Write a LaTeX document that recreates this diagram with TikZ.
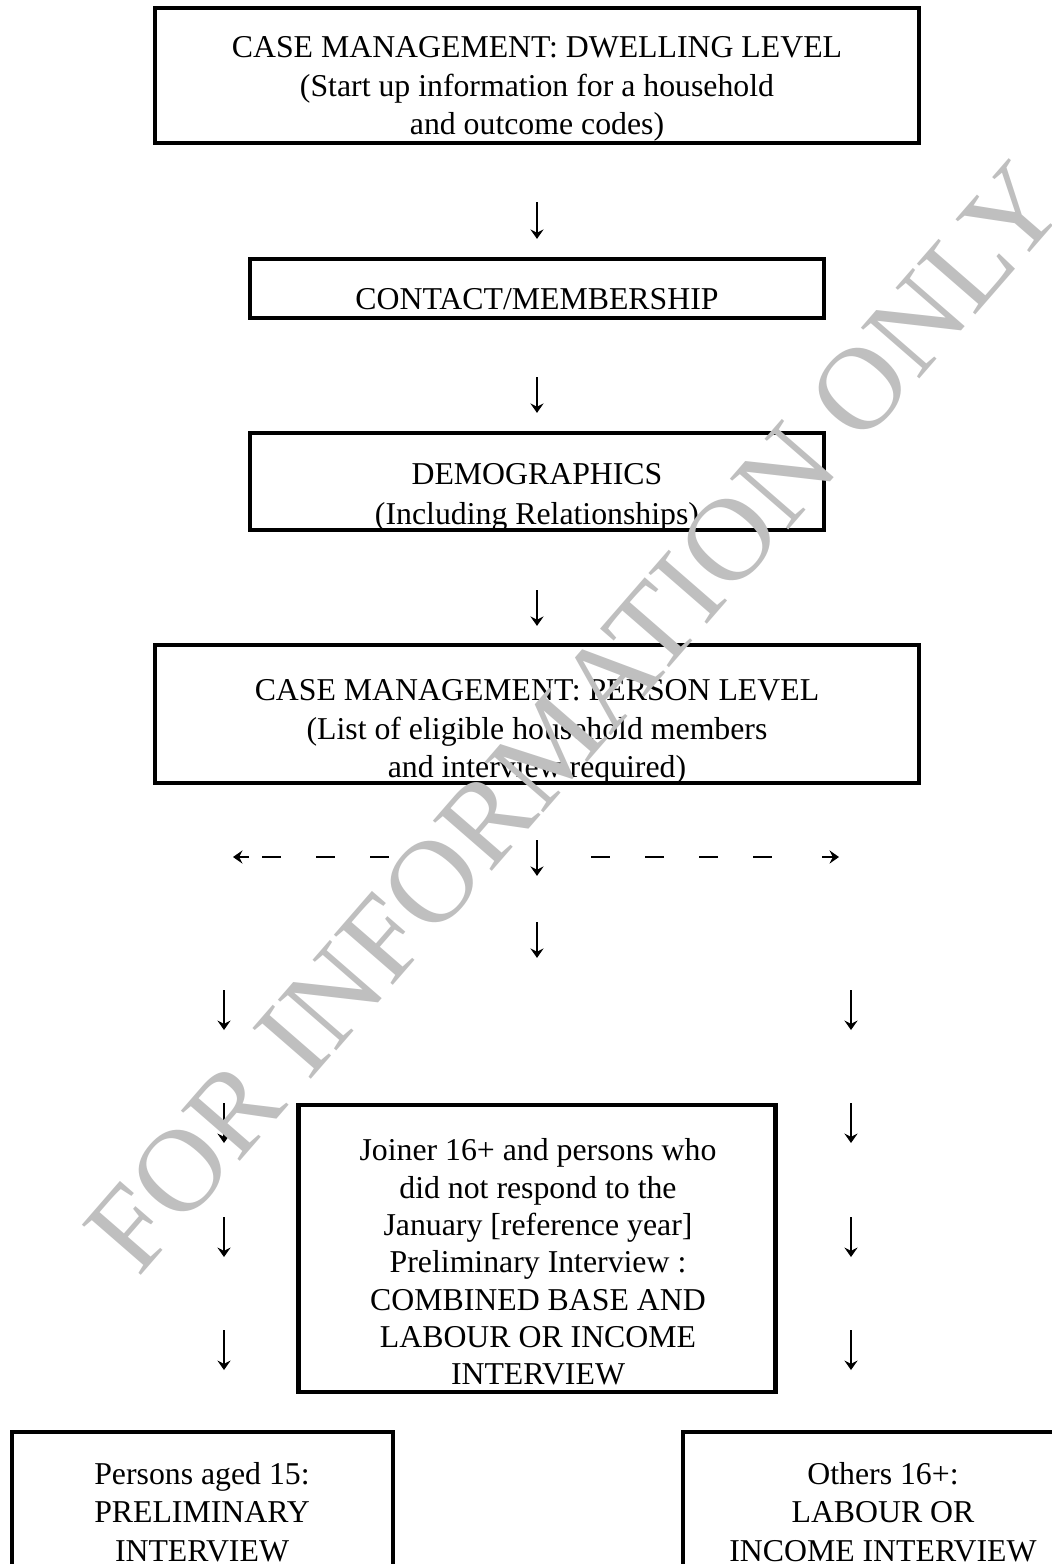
\documentclass[tikz,border=0pt]{standalone}
\usepackage{fontspec}
\setmainfont{Liberation Serif}
\usetikzlibrary{arrows.meta}
\newcommand{\pxu}{0.3775pt}

\begin{document}
\begin{tikzpicture}[x=0.3775pt,y=-0.3775pt,
	box/.style 2 args={draw, line width=1.6pt, minimum width=#1*\pxu, minimum height=#2*\pxu, inner sep=0pt},
	txt/.style={align=center, font=\fontsize{12}{14.5}\selectfont, inner sep=0pt},
	flow/.style={line width=0.75pt, -{Stealth[length=3.6pt,width=5pt,inset=1.3pt]}},
	dashes/.style={line width=0.75pt, dash pattern=on 7pt off 13.4pt},
	stamp/.style={text=black!25, font=\fontsize{44.6}{45}\selectfont, rotate=49, anchor=base, inner sep=0pt}]
	\useasboundingbox (0,0) rectangle (1052,1564);
	\clip (0,0) rectangle (1052,1564);
	% frames
	\node[box={764}{135}] (dwell) at (537,75.5) {};
	\node[box={574}{59}] (contact) at (537,288.5) {};
	\node[box={574}{97}] (demog) at (537,481.5) {};
	\node[box={764}{138}] (person) at (537,714) {};
	\node[box={477}{287}] (joiner) at (537,1248.5) {};
	\node[box={381}{162}] (aged) at (202.5,1513) {};
	\node[box={400}{162}] (others) at (883,1513) {};
	% texts
	\node[txt] (dwelltext) at (537,89) {CASE MANAGEMENT: DWELLING LEVEL\\(Start up information for a household\\and outcome codes)};
	\node[txt] (contacttext) at (537,299) {CONTACT/MEMBERSHIP};
	\node[txt] (demogtext) at (537,497) {DEMOGRAPHICS\\[0.6pt](Including Relationships)};
	\node[txt] (persontext) at (537,732) {CASE MANAGEMENT: PERSON LEVEL\\(List of eligible household members\\and interview required)};
	\node[txt, font=\fontsize{12}{14.1}\selectfont] (joinertext) at (538,1262) {Joiner 16+ and persons who\\did not respond to the\\January [reference year]\\Preliminary Interview :\\COMBINED BASE AND\\LABOUR OR INCOME\\INTERVIEW};
	\node[txt] (agedtext) at (202,1512) {Persons aged 15:\\PRELIMINARY\\INTERVIEW};
	\node[txt] (otherstext) at (883,1512) {Others 16+:\\LABOUR OR\\INCOME INTERVIEW};
	% main column
	\draw[flow, shorten <=57*\pxu, shorten >=18*\pxu] (dwell) -- (contact);
	\draw[flow, shorten <=57*\pxu, shorten >=18*\pxu] (contact) -- (demog);
	\draw[flow, shorten <=58*\pxu, shorten >=17*\pxu] (demog) -- (person);
	\draw[flow, shorten <=55*\pxu, shorten >=227*\pxu] (person) -- (joiner);
	\draw[flow, shorten <=137*\pxu, shorten >=145*\pxu] (person) -- (joiner);
	% split either way
	\coordinate (dl0) at (262,857);
	\coordinate (dl1) at (395,857);
	\coordinate (dr0) at (591,857);
	\coordinate (dr1) at (773,857);
	\draw[dashes] (dl0) -- (dl1);
	\draw[dashes] (dr0) -- (dr1);
	\draw[flow] (dl0) ++(-13,0) -- ++(-16,0);
	\draw[flow] (dr1) ++(49,0) -- ++(17,0);
	% side columns
	\foreach \y [count=\i] in {990,1103,1217,1330} {
		\coordinate (l\i) at (224,\y);
		\coordinate (r\i) at (851,\y);
		\draw[flow] (l\i) -- ++(0,40);
		\draw[flow] (r\i) -- ++(0,40);
	}
	% watermark
	\node[stamp] (wm) at (604,743) {FOR INFORMATION ONLY};
\end{tikzpicture}
\end{document}
